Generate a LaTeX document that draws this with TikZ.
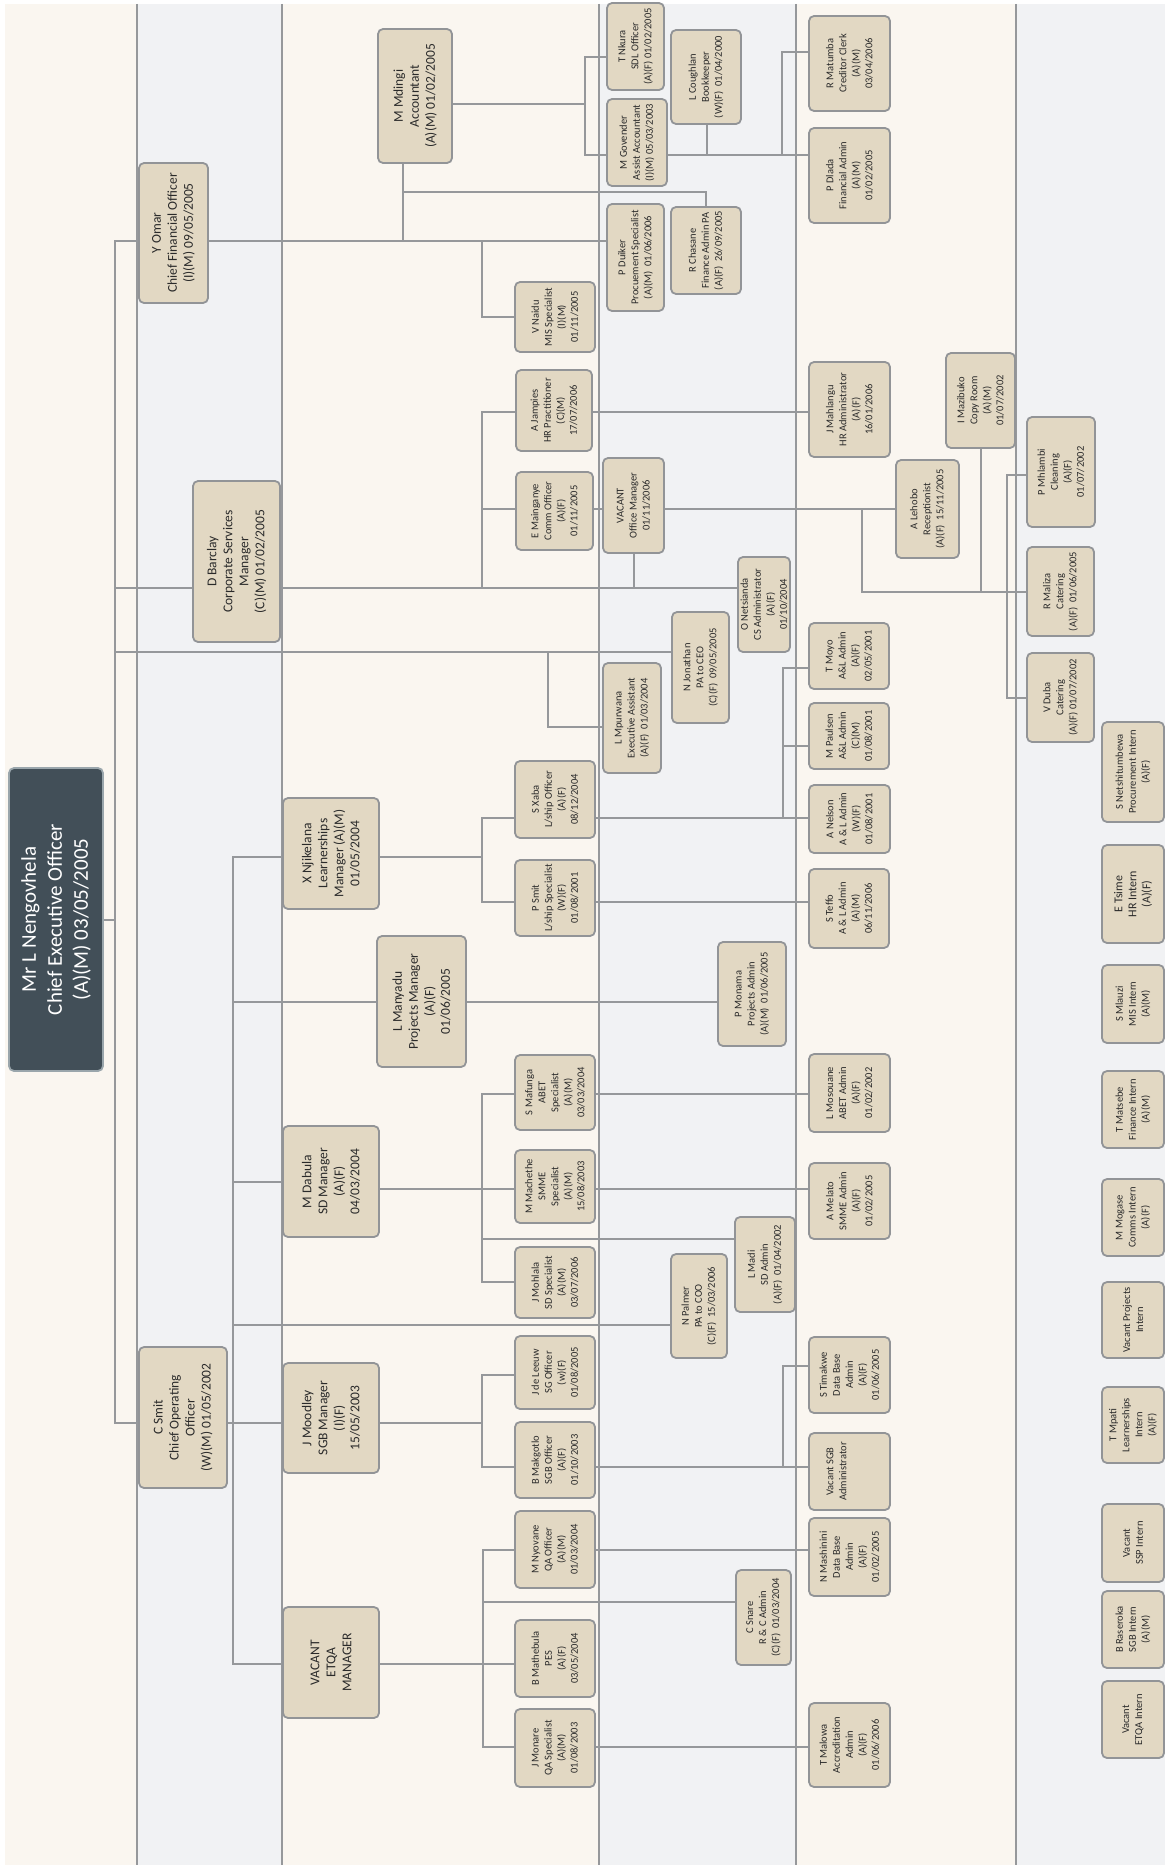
\documentclass[tikz,border=0pt]{standalone}
\usepackage{fontspec}
\setmainfont{Carlito}
\pgfdeclarelayer{bgl}
\pgfdeclarelayer{lnl}
\pgfsetlayers{bgl,lnl,main}
\definecolor{cream}{HTML}{FAF6F0}
\definecolor{bandg}{HTML}{F1F2F4}
\definecolor{boxf}{HTML}{E2D8C3}
\definecolor{boxd}{HTML}{929497}
\definecolor{linec}{HTML}{96989B}
\definecolor{ceof}{HTML}{424F58}
\definecolor{ceod}{HTML}{9AA6AC}
\definecolor{txt}{HTML}{2A2A2A}
\tikzset{
 obx/.style={rotate=90, draw=boxd, fill=boxf, line width=1.8pt, rounded corners=5pt,
   inner sep=0pt, outer sep=0pt, align=center, text=txt, font=\fontsize{10.5}{13}\selectfont},
 mgr/.style={font=\fontsize{13.5}{16}\selectfont},
 intb/.style={font=\fontsize{10.5}{13}\selectfont},
 bigint/.style={font=\fontsize{12}{14}\selectfont},
 ceobox/.style={fill=ceof, draw=ceod, text=white, font=\fontsize{21}{26}\selectfont},
 conn/.style={draw=linec, line width=2pt, line cap=rect},
 bandline/.style={draw=linec, line width=2pt}
}
% [style] name x1 y1 x2 y2 text
\newcommand\obox[7][]{\node[obx,#1,minimum width={(#6-#4)*1pt},minimum height={(#5-#3)*1pt}] (#2) at ({(#3+#5)/2},{(#4+#6)/2}) {#7};}
\newcommand\twosp{\hspace{0.45em}}
\begin{document}
\begin{tikzpicture}[x=1pt,y=-1pt]
\useasboundingbox (0,0) rectangle (1165,1865);
\begin{pgfonlayer}{bgl}
\fill[white] (0,0) rectangle (1165,1865);
\fill[cream] (5,4) rectangle (1165,1865);
\fill[bandg] (137,4) rectangle (282,1865);
\fill[bandg] (599,4) rectangle (796,1865);
\fill[bandg] (1016,4) rectangle (1165,1865);
\foreach \bxl in {137,282,599,796,1016} {\draw[bandline] (\bxl,4) -- (\bxl,1865);}
\end{pgfonlayer}

% ---- boxes ----
\obox[ceobox]{ceo}{9}{768}{103}{1071}{Mr L Nengovhela\\Chief Executive Officer\\(A)(M) 03/05/2005}
\obox[mgr]{yomar}{139}{163}{208}{303}{Y Omar\\Chief Financial Officer\\(I)(M) 09/05/2005}
\obox[mgr]{dbarclay}{193}{481}{280}{642}{D Barclay\\Corporate Services\\Manager\\(C)(M) 01/02/2005}
\obox[mgr]{csmit}{139}{1347}{227}{1488}{C Smit\\Chief Operating\\Officer\\(W)(M) 01/05/2002}
\obox[mgr]{mdingi}{378}{29}{452}{163}{M Mdingi\\Accountant\\(A)(M) 01/02/2005}
\obox[mgr]{xnjik}{283}{798}{379}{909}{X Njikelana\\Learnerships\\Manager (A)(M)\\01/05/2004}
\obox[mgr]{lmanyadu}{377}{936}{466}{1067}{L Manyadu\\Projects Manager\\(A)(F)\\01/06/2005}
\obox[mgr]{mdabula}{283}{1126}{379}{1237}{M Dabula\\SD Manager\\(A)(F)\\04/03/2004}
\obox[mgr]{jmoodley}{283}{1363}{379}{1473}{J Moodley\\SGB Manager\\(I)(F)\\15/05/2003}
\obox[mgr]{etqa}{283}{1607}{379}{1718}{VACANT\\ETQA\\MANAGER}

\obox{tnkura}{607}{3}{664}{90}{T Nkura\\SDL Officer\\(A)(F) 01/02/2005}
\obox{mgovender}{607}{99}{667}{186}{M Govender\\Assist Accountant\\(I)(M) 05/03/2003}
\obox{lcoughlan}{671}{30}{741}{124}{L Coughlan\\Bookkeeper\\(W)(F)\twosp 01/04/2000}
\obox{pduiker}{607}{204}{664}{311}{P Duiker\\Procuement Specialist\\(A)(M)\twosp 01/06/2006}
\obox{rchasane}{671}{207}{741}{294}{R Chasane\\Finance Admin PA\\(A)(F)\twosp 26/09/2005}
\obox{vnaidu}{515}{282}{595}{352}{V Naidu\\MIS Specialist\\(I)(M)\\01/11/2005}
\obox{ajampies}{516}{370}{592}{451}{A Jampies\\HR Practitioner\\(C)(M)\\17/07/2006}
\obox{emainganye}{516}{472}{593}{550}{E Mainganye\\Comm Officer\\(A)(F)\\01/11/2005}
\obox{vacantom}{603}{458}{664}{553}{VACANT\\Office Manager\\01/11/2006}
\obox{onetsianda}{738}{557}{790}{652}{O Netsianda\\CS Administrator\\(A)(F)\\01/10/2004}
\obox{njonathan}{672}{612}{729}{723}{N Jonathan\\PA to CEO\\(C)(F)\twosp 09/05/2005}
\obox{lmpurwana}{603}{663}{661}{773}{L Mpurwana\\Executive Assistant\\(A)(F)\twosp 01/03/2004}
\obox{sxaba}{515}{761}{595}{838}{S Xaba\\L/ship Officer\\(A)(F)\\08/12/2004}
\obox{psmit}{515}{860}{595}{936}{P Smit\\L/ship Specialist\\(W)(F)\\01/08/2001}
\obox{pmonama}{718}{942}{786}{1046}{P Monama\\Projects Admin\\(A)(M)\twosp 01/06/2005}
\obox{smafunga}{515}{1055}{595}{1130}{S Mafunga\\ABET\\Specialist\\(A)(M)\\03/03/2004}
\obox{mmachethe}{515}{1150}{595}{1223}{M Machethe\\SMME\\Specialist\\(A)(M)\\15/08/2003}
\obox{jmohlala}{515}{1247}{595}{1318}{J Mohlala\\SD Specialist\\(A)(M)\\03/07/2006}
\obox{lmadi}{735}{1217}{795}{1312}{L Madi\\SD Admin\\(A)(F)\twosp 01/04/2002}
\obox{npalmer}{671}{1254}{727}{1358}{N Palmer\\PA to COO\\(C)(F)\twosp 15/03/2006}
\obox{jdeleeuw}{515}{1336}{595}{1409}{J de Leeuw\\SG Officer\\(w)(F)\\01/08/2005}
\obox{bmakgotlo}{515}{1422}{595}{1498}{B Makgotlo\\SGB Officer\\(A)(F)\\01/10/2003}
\obox{mnyovane}{515}{1511}{595}{1588}{M Nyovane\\QA Officer\\(A)(M)\\01/03/2004}
\obox{bmathebula}{515}{1620}{595}{1697}{B Mathebula\\PES\\(A)(F)\\03/05/2004}
\obox{jmonare}{515}{1709}{595}{1787}{J Monare\\QA Specialist\\(A)(M)\\01/08/2003}
\obox{csnare}{736}{1570}{791}{1665}{C Snare\\R \& C Admin\\(C)(F)\twosp 01/03/2004}

\obox{rmatumba}{809}{16}{890}{111}{R Matumba\\Creditor Clerk\\(A)(M)\\03/04/2006}
\obox{pdlada}{809}{128}{890}{223}{P Dlada\\Financial Admin\\(A)(M)\\01/02/2005}
\obox{jmahlangu}{809}{362}{890}{457}{J Mahlangu\\HR Administrator\\(A)(F)\\16/01/2006}
\obox{mazibuko}{946}{353}{1015}{448}{I Mazibuko\\Copy Room\\(A)(M)\\01/07/2002}
\obox{alehobo}{896}{460}{959}{558}{A Lehobo\\Receptionist\\(A)(F)\twosp 15/11/2005}
\obox{pmhlambi}{1027}{417}{1095}{527}{P Mhlambi\\Cleaning\\(A)(F)\\01/07/2002}
\obox{rmaliza}{1027}{547}{1094}{636}{R Maliza\\Catering\\(A)(F)\twosp 01/06/2005}
\obox{vduba}{1027}{653}{1094}{742}{V Duba\\Catering\\(A)(F) 01/07/2002}
\obox{tmoyo}{809}{623}{889}{689}{T Moyo\\A\&L Admin\\(A)(F)\\02/05/2001}
\obox{mpaulsen}{809}{703}{889}{769}{M Paulsen\\A\&L Admin\\(C)(M)\\01/08/2001}
\obox{anelson}{809}{785}{890}{853}{A Nelson\\A \& L Admin\\(W)(F)\\01/08/2001}
\obox{steffo}{809}{869}{889}{948}{S Teffo\\A \& L Admin\\(A)(M)\\06/11/2006}
\obox{lmosouane}{809}{1054}{890}{1132}{L Mosouane\\ABET Admin\\(A)(F)\\01/02/2002}
\obox{amelato}{809}{1163}{890}{1239}{A Melato\\SMME Admin\\(A)(F)\\01/02/2005}
\obox{stimakwe}{809}{1337}{890}{1413}{S Timakwe\\Data Base\\Admin\\(A)(F)\\01/06/2005}
\obox{vacsgb}{809}{1433}{890}{1510}{Vacant SGB\\Administrator\\~\\~}
\obox{nmashinini}{809}{1518}{890}{1596}{N Mashinini\\Data Base\\Admin\\(A)(F)\\01/02/2005}
\obox{tmalowa}{809}{1703}{890}{1787}{T Malowa\\Accreditation\\Admin\\(A)(F)\\01/06/2006}

\obox[intb]{snetshi}{1102}{722}{1164}{822}{S Netshitumbewa\\Procurement Intern\\(A)(F)}
\obox[bigint]{etsime}{1102}{845}{1164}{943}{E Tsime\\HR Intern\\(A)(F)}
\obox[intb]{smlauzi}{1102}{965}{1164}{1043}{S Mlauzi\\MIS Intern\\(A)(M)}
\obox[intb]{tmatsebe}{1102}{1071}{1164}{1148}{T Matsebe\\Finance Intern\\(A)(M)}
\obox[intb]{mmogase}{1102}{1179}{1164}{1256}{M Mogase\\Comms Intern\\(A)(F)}
\obox[intb]{vacproj}{1102}{1282}{1164}{1358}{Vacant Projects\\Intern}
\obox[intb]{tmpati}{1102}{1387}{1164}{1463}{T Mpati\\Learnerships\\Intern\\(A)(F)}
\obox[intb]{vacssp}{1102}{1504}{1164}{1582}{Vacant\\SSP Intern}
\obox[intb]{braseroka}{1102}{1591}{1164}{1668}{B Raseroka\\SGB Intern\\(A)(M)}
\obox[intb]{vacetqa}{1102}{1681}{1164}{1758}{Vacant\\ETQA Intern}

% ---- connectors ----
\begin{pgfonlayer}{lnl}
\draw[conn] (ceo.south) -- (ceo.south -| 115,0);
\draw[conn] (115,241) -- (115,1423);
% CFO branch
\draw[conn] (115,241) -- (yomar.north |- 0,241);
\draw[conn] (yomar.south |- 0,241) -- (pduiker.north |- 0,241);
\draw[conn] (mdingi.west -| 403,0) -- (403,241);
\draw[conn] (403,192) -| (rchasane.east);
\draw[conn] (482,241) |- (vnaidu.north);
\draw[conn] (mdingi.south |- 0,104) -- (585,104);
\draw[conn] (585,57) -- (585,155);
\draw[conn] (585,57) -- (tnkura.north |- 0,57);
\draw[conn] (585,155) -- (pdlada.north |- 0,155);
\draw[conn] (lcoughlan.west -| 707,0) -- (707,155);
\draw[conn] (782,155) -- (782,52) -- (rmatumba.north |- 0,52);
% Corporate services branch
\draw[conn] (115,588) -- (onetsianda.north |- 0,588);
\draw[conn] (482,588) -- (482,412);
\draw[conn] (482,412) -- (jmahlangu.north |- 0,412);
\draw[conn] (482,509) -- (alehobo.north |- 0,509);
\draw[conn] (vacantom.west) -- (vacantom.west |- 0,588);
\draw[conn] (862,509) |- (rmaliza.north |- 0,592);
\draw[conn] (mazibuko.west) -- (mazibuko.west |- 0,592);
\draw[conn] (pmhlambi.north |- 0,475) -| (1007,698) -- (vduba.north |- 0,698);
% PA to CEO
\draw[conn] (115,652) -- (njonathan.north |- 0,652);
\draw[conn] (548,652) |- (lmpurwana.north |- 0,727);
% Learnerships
\draw[conn] (233,857) -- (xnjik.north |- 0,857);
\draw[conn] (xnjik.south |- 0,857) -- (482,857);
\draw[conn] (482,818) -- (482,902);
\draw[conn] (482,818) -- (anelson.north |- 0,818);
\draw[conn] (tmoyo.north |- 0,668) -| (783,818);
\draw[conn] (783,746) -- (mpaulsen.north |- 0,746);
\draw[conn] (482,902) -- (steffo.north |- 0,902);
% COO branch
\draw[conn] (233,857) -- (233,1664);
\draw[conn] (233,1002) -- (pmonama.north |- 0,1002);
\draw[conn] (233,1182) -- (mdabula.north |- 0,1182);
\draw[conn] (mdabula.south |- 0,1189) -- (amelato.north |- 0,1189);
\draw[conn] (233,1325) -- (npalmer.north |- 0,1325);
\draw[conn] (115,1423) -- (csmit.north |- 0,1423);
\draw[conn] (csmit.south |- 0,1423) -- (jmoodley.north |- 0,1423);
\draw[conn] (jmoodley.south |- 0,1423) -- (482,1423);
\draw[conn] (233,1664) -- (etqa.north |- 0,1664);
\draw[conn] (etqa.south |- 0,1664) -- (bmathebula.north |- 0,1664);
% SD
\draw[conn] (482,1094) -- (482,1282);
\draw[conn] (482,1094) -- (lmosouane.north |- 0,1094);
\draw[conn] (482,1239) -- (lmadi.north |- 0,1239);
\draw[conn] (482,1282) -- (jmohlala.north |- 0,1282);
% SGB
\draw[conn] (482,1375) -- (482,1467);
\draw[conn] (482,1375) -- (jdeleeuw.north |- 0,1375);
\draw[conn] (482,1467) -- (vacsgb.north |- 0,1467);
\draw[conn] (stimakwe.north |- 0,1366) -| (783,1467);
% ETQA
\draw[conn] (483,1550) -- (483,1747);
\draw[conn] (483,1550) -- (nmashinini.north |- 0,1550);
\draw[conn] (483,1602) -- (csnare.north |- 0,1602);
\draw[conn] (483,1747) -- (tmalowa.north |- 0,1747);
\end{pgfonlayer}
\end{tikzpicture}
\end{document}
